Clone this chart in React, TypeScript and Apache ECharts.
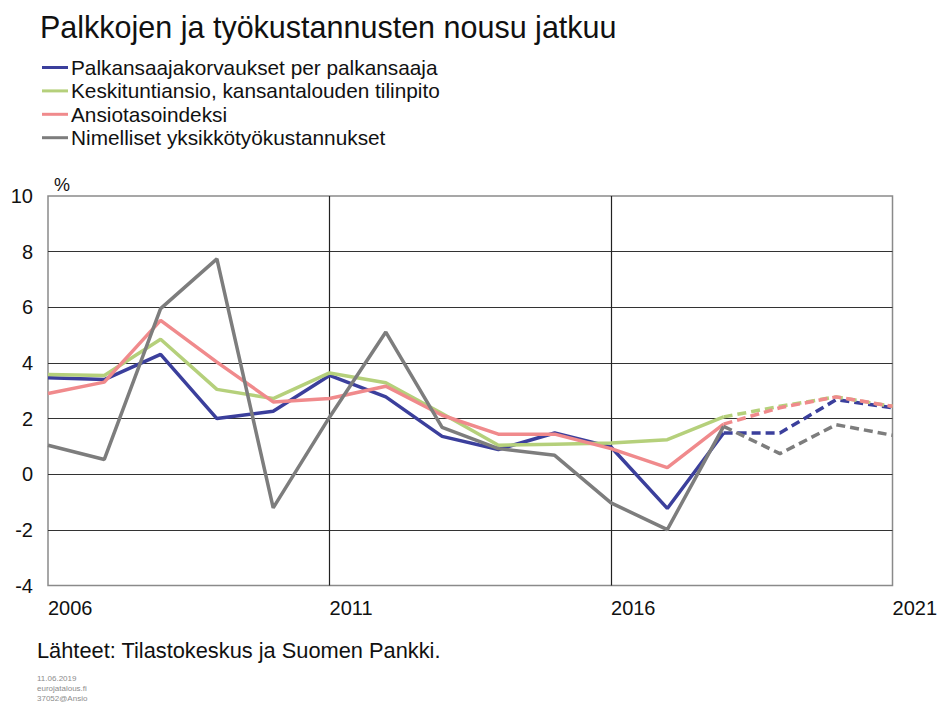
import React, { useEffect, useRef } from "react";
import * as echarts from "echarts";

const FONT = "'Liberation Sans', Arial, sans-serif";

const years = [2006, 2007, 2008, 2009, 2010, 2011, 2012, 2013, 2014, 2015, 2016, 2017, 2018, 2019, 2020, 2021];
const lastActualYear = 2018;

const seriesNames = [
  "Palkansaajakorvaukset per palkansaaja",
  "Keskituntiansio, kansantalouden tilinpito",
  "Ansiotasoindeksi",
  "Nimelliset yksikkötyökustannukset",
];
const seriesColors = ["#3b3f9c", "#b5d07b", "#f08a8c", "#7d7d7d"];

const compensation = [3.47, 3.40, 4.31, 2.00, 2.26, 3.55, 2.78, 1.36, 0.89, 1.48, 0.98, -1.23, 1.48, 1.48, 2.68, 2.39];
const hourlyEarnings = [3.58, 3.55, 4.85, 3.05, 2.72, 3.64, 3.29, 2.18, 1.04, 1.08, 1.12, 1.24, 2.06, 2.44, 2.78, 2.44];
const earningsIndex = [2.90, 3.31, 5.53, 4.03, 2.60, 2.72, 3.16, 2.12, 1.44, 1.44, 0.92, 0.24, 1.80, 2.39, 2.78, 2.44];
const unitLabourCosts = [1.04, 0.53, 5.95, 7.74, -1.21, 2.05, 5.11, 1.68, 0.92, 0.68, -1.03, -1.99, 1.72, 0.74, 1.78, 1.40];

const allValues = [compensation, hourlyEarnings, earningsIndex, unitLabourCosts];

const yMin = -4;
const yMax = 10;
const yInterval = 2;
const xMin = 2006;
const xMax = 2021;
const xInterval = 5;

const title = "Palkkojen ja työkustannusten nousu jatkuu";
const sourceText = "Lähteet: Tilastokeskus ja Suomen Pankki.";
const footerLines = ["11.06.2019", "eurojatalous.fi", "37052@Ansio"];

export default function App() {
  const ref = useRef<HTMLDivElement>(null);

  useEffect(() => {
    if (!ref.current) return;
    const chart = echarts.init(ref.current, null, { renderer: "svg" });

    const series: any[] = [];
    allValues.forEach((vals, i) => {
      const solid = years
        .map((y, j) => [y, vals[j]])
        .filter((p) => (p[0] as number) <= lastActualYear);
      const dashed = years
        .map((y, j) => [y, vals[j]])
        .filter((p) => (p[0] as number) >= lastActualYear);
      series.push({
        name: seriesNames[i],
        type: "line",
        data: solid,
        symbol: "none",
        color: seriesColors[i],
        lineStyle: { color: seriesColors[i], width: 3.5 },
        z: 10 + i,
      });
      series.push({
        name: seriesNames[i] + " (ennuste)",
        type: "line",
        data: dashed,
        symbol: "none",
        color: seriesColors[i],
        lineStyle: { color: seriesColors[i], width: 3.5, type: [9, 5] },
        z: 10 + i,
      });
    });

    const footerGraphics = footerLines.map((t, k) => ({
      type: "text",
      left: 37,
      top: 674 + k * 10,
      style: { text: t, font: `8px ${FONT}`, fill: "#8c8c8c" },
    }));

    const option: any = {
      animation: false,
      backgroundColor: "#ffffff",
      textStyle: { fontFamily: FONT },
      title: {
        text: title,
        left: 35,
        top: 6,
        textStyle: { fontFamily: FONT, fontSize: 30.5, fontWeight: "normal", color: "#111" },
      },
      legend: {
        data: seriesNames,
        orient: "vertical",
        left: 37,
        top: 52,
        itemWidth: 26,
        itemHeight: 3,
        itemGap: 2.4,
        icon: "rect",
        selectedMode: false,
        textStyle: { fontFamily: FONT, fontSize: 20.8, color: "#111", padding: [0, 0, 0, -2] },
      },
      grid: {
        left: 48,
        top: 196,
        right: 44,
        bottom: 118.5,
        show: true,
        borderColor: "#8a8a8a",
        borderWidth: 1.5,
        backgroundColor: "transparent",
      },
      xAxis: {
        type: "value",
        min: xMin,
        max: xMax,
        interval: xInterval,
        axisLine: { show: false },
        axisTick: { show: false },
        splitLine: { show: true, showMinLine: false, showMaxLine: false, lineStyle: { color: "#222", width: 1.2 } },
        axisLabel: {
          fontFamily: FONT,
          fontSize: 20,
          color: "#111",
          align: "left",
          margin: 12,
          formatter: (v: number) => String(v),
        },
      },
      yAxis: {
        type: "value",
        min: yMin,
        max: yMax,
        interval: yInterval,
        name: "%",
        nameLocation: "end",
        nameGap: 2,
        nameTextStyle: { fontFamily: FONT, fontSize: 18, color: "#111", align: "left", padding: [0, 0, 0, 6] },
        axisLine: { show: false },
        axisTick: { show: false },
        splitLine: { show: true, showMinLine: false, showMaxLine: false, lineStyle: { color: "#333", width: 1.2 } },
        axisLabel: { fontFamily: FONT, fontSize: 20, color: "#111", margin: 15 },
      },
      graphic: [
        {
          type: "text",
          left: 37,
          top: 639,
          style: { text: sourceText, font: `21.8px ${FONT}`, fill: "#111" },
        },
        ...footerGraphics,
      ],
      series,
    };

    chart.setOption(option);
    return () => chart.dispose();
  }, []);

  return (
    <div
      ref={ref}
      style={{ position: "fixed", left: 0, top: 0, width: 940, height: 704, overflow: "hidden" }}
    />
  );
}
